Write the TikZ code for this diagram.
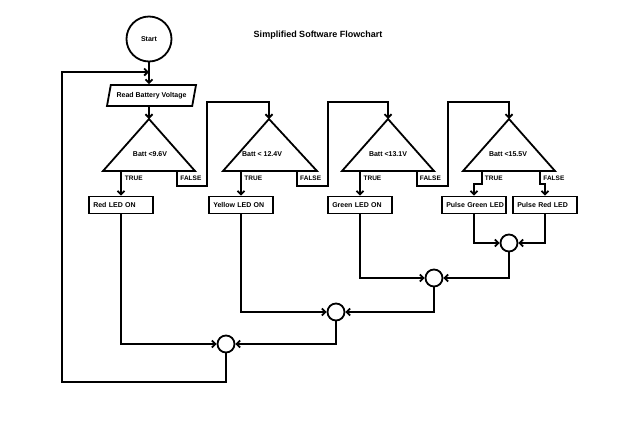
\documentclass[tikz,border=0pt]{standalone}
\usepackage{fontspec}
\setmainfont{Liberation Sans}
\usetikzlibrary{positioning,shapes.geometric,arrows.meta}

\tikzset{
	flow/.style={-{Straight Barb[length=3.5pt,width=7pt]}},
	tri/.style={line join=miter},
	startnode/.style={circle,draw,minimum size=45pt,inner sep=0pt,font=\bfseries\fontsize{7}{8}\selectfont},
	readbox/.style={trapezium,draw,trapezium left angle=74,trapezium right angle=106,trapezium stretches body,minimum width=89pt,minimum height=21pt,font=\bfseries\fontsize{7}{8}\selectfont},
	ledbox/.style={draw,minimum height=17pt,text width=55.5pt,inner xsep=4pt,inner ysep=0pt,align=left,font=\bfseries\fontsize{7}{8}\selectfont},
	battlabel/.style={font=\bfseries\fontsize{7}{8}\selectfont},
	branch/.style={anchor=west,inner sep=0pt,font=\bfseries\fontsize{6.5}{7}\selectfont},
	merge/.style={circle,draw,minimum size=17pt,inner sep=0pt}
}

\begin{document}
\begin{tikzpicture}[x=1pt,y=-1pt,line width=1.8pt]
\useasboundingbox (0,0) rectangle (620,437);
\node[font=\bfseries\fontsize{9}{11}\selectfont] (title) at (318,35) {Simplified Software Flowchart};

	\node[startnode] (start) at (149,39) {Start};
	\node[readbox] (read) at (151.5,95.5) {Read Battery Voltage};
	\coordinate (join) at (149,72);
	\coordinate (lb) at (62,382);

	% decisions
	\coordinate (t1a) at (149,119);
	\coordinate (t2a) at (269,119);
	\coordinate (t3a) at (388,119);
	\coordinate (t4a) at (509,119);
	\draw[tri] (t1a) -- (103,171) -- (195,171) -- cycle;
	\draw[tri] (t2a) -- (223,171) -- (317,171) -- cycle;
	\draw[tri] (t3a) -- (342,171) -- (434,171) -- cycle;
	\draw[tri] (t4a) -- (463,171) -- (555,171) -- cycle;
	\node[battlabel] (b1) at (150,154) {Batt <9.6V};
	\node[battlabel] (b2) at (262,154) {Batt < 12.4V};
	\node[battlabel] (b3) at (388,154) {Batt <13.1V};
	\node[battlabel] (b4) at (508,154) {Batt <15.5V};

	\coordinate (t1t) at (121,171);
	\coordinate (t1f) at (177,171);
	\coordinate (t2t) at (241,171);
	\coordinate (t2f) at (297,171);
	\coordinate (t3t) at (360,171);
	\coordinate (t3f) at (417,171);
	\coordinate (t4t) at (482,171);
	\coordinate (t4f) at (540,171);

	\node[branch] (tr1) at (124,178) {TRUE};
	\node[branch] (fa1) at (179.5,178) {FALSE};
	\node[branch] (tr2) at (243.5,178.5) {TRUE};
	\node[branch] (fa2) at (299.3,178.5) {FALSE};
	\node[branch] (tr3) at (362.7,178.3) {TRUE};
	\node[branch] (fa3) at (419,178.3) {FALSE};
	\node[branch] (tr4) at (484,178.3) {TRUE};
	\node[branch] (fa4) at (542.5,178.3) {FALSE};

	% outputs
	\node[ledbox] (red) at (121,205) {Red LED ON};
	\node[ledbox] (yellow) at (241,205) {Yellow LED ON};
	\node[ledbox] (green) at (360,205) {Green LED ON};
	\node[ledbox] (pgreen) at (474,205) {\mbox{Pulse Green LED}};
	\node[ledbox] (pred) at (545,205) {\mbox{Pulse Red LED}};

	\node[merge] (c1) at (509,243) {};
	\node[merge] (c2) at (434,278) {};
	\node[merge] (c3) at (336,312) {};
	\node[merge] (c4) at (226,344) {};

	\draw[flow] (start) -- (start |- read.north);
	\draw[flow] (start |- read.south) -- (t1a);

	\draw[flow] (t1t) -- (red);
	\draw[flow] (t2t) -- (yellow);
	\draw[flow] (t3t) -- (green);
	\draw[flow] (t4t) -- ++(0,13) -| (pgreen);
	\draw[flow] (t4f) -- ++(0,13) -| (pred);

	\draw[flow] (t1f) -- ++(0,15) -| (207,102) -| (t2a);
	\draw[flow] (t2f) -- ++(0,15) -| (328,102) -| (t3a);
	\draw[flow] (t3f) -- ++(0,15) -| (448,102) -| (t4a);

	\draw[flow] (pgreen) |- (c1);
	\draw[flow] (pred) |- (c1);
	\draw[flow] (green) |- (c2);
	\draw[flow] (c1) |- (c2);
	\draw[flow] (yellow) |- (c3);
	\draw[flow] (c2) |- (c3);
	\draw[flow] (red) |- (c4);
	\draw[flow] (c3) |- (c4);
	\draw[flow] (c4) |- (lb) |- (join);
\end{tikzpicture}
\end{document}
